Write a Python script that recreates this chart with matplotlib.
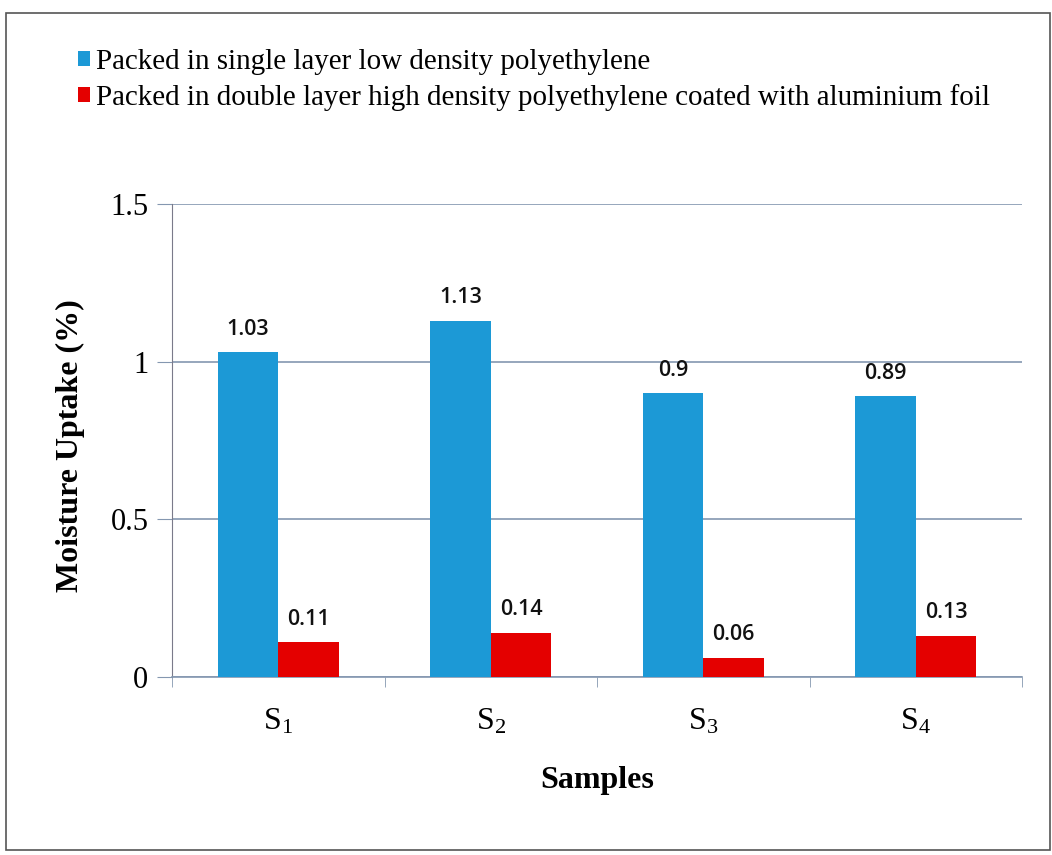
import matplotlib
matplotlib.use("Agg")
import matplotlib.pyplot as plt
from matplotlib.patches import Rectangle
import numpy as np

categories = ["S$_1$", "S$_2$", "S$_3$", "S$_4$"]
single_ldpe = [1.03, 1.13, 0.90, 0.89]
double_hdpe = [0.11, 0.14, 0.06, 0.13]
single_labels = ["1.03", "1.13", "0.9", "0.89"]
double_labels = ["0.11", "0.14", "0.06", "0.13"]
series_names = ["Packed in single layer low density polyethylene",
                "Packed in double layer high density polyethylene coated with aluminium foil"]
yticks = [0, 0.5, 1, 1.5]
ytick_labels = ["0", "0.5", "1", "1.5"]

plt.rcParams['mathtext.fontset'] = 'custom'
plt.rcParams['mathtext.rm'] = 'Liberation Serif'
plt.rcParams['mathtext.it'] = 'Liberation Serif:italic'
plt.rcParams['mathtext.bf'] = 'Liberation Serif:bold'
plt.rcParams['mathtext.default'] = 'rm'

blue = "#1c99d6"
red = "#e40000"
grid_c = "#8497b0"

fig = plt.figure(figsize=(10.52, 8.55), dpi=100)
fig.patches.append(Rectangle((0.006, 0.006), 0.992, 0.979, transform=fig.transFigure,
                             fill=False, edgecolor="#555555", linewidth=1.2))
ax = fig.add_axes([0.1635, 0.2085, 0.808, 0.5525])

x = np.arange(len(categories))
w = 0.285
b1 = ax.bar(x - w/2, single_ldpe, width=w, color=blue, label=series_names[0], zorder=3)
b2 = ax.bar(x + w/2, double_hdpe, width=w, color=red, label=series_names[1], zorder=3)

lab_kw = dict(textcoords="offset points", ha="center", va="bottom",
              fontsize=15.5, family="Open Sans", fontweight="semibold", color="#111111")
for rect, lab in zip(b1, single_labels):
    ax.annotate(lab, (rect.get_x() + rect.get_width()/2, rect.get_height()),
                xytext=(0, 9), **lab_kw)
for rect, lab in zip(b2, double_labels):
    ax.annotate(lab, (rect.get_x() + rect.get_width()/2, rect.get_height()),
                xytext=(0, 9), **lab_kw)

ax.set_xlim(-0.5, 3.5)
ax.set_ylim(0, 1.5)
ax.set_yticks(yticks)
ax.set_yticklabels(ytick_labels, family="Liberation Serif", fontsize=22)
ax.set_xticks(x)
ax.set_xticklabels(categories, family="Liberation Serif", fontsize=23)
ax.set_xticks(np.arange(-0.5, 4, 1), minor=True)
ax.tick_params(axis="x", which="major", length=0, pad=22)
ax.tick_params(axis="x", which="minor", length=7, color=grid_c, direction="out")
ax.tick_params(axis="y", length=11, color=grid_c, direction="out", pad=6)
ax.yaxis.grid(True, color=grid_c, linewidth=1.2, zorder=0)
ax.set_axisbelow(True)
for s in ["top", "right"]:
    ax.spines[s].set_visible(False)
ax.spines["left"].set_color("#7a7a8a")
ax.spines["bottom"].set_color(grid_c)
ax.spines["bottom"].set_linewidth(1.2)

ax.set_ylabel("Moisture Uptake (%)", family="Liberation Serif", fontweight="bold", fontsize=23)
ax.yaxis.set_label_coords(-0.102, 0.49)
ax.set_xlabel("Samples", family="Liberation Serif", fontweight="bold", fontsize=23)
ax.xaxis.set_label_coords(0.5, -0.189)

leg = fig.legend(handles=[b1, b2], loc="upper left", bbox_to_anchor=(0.055, 0.967),
                 frameon=False, prop={"family": "Liberation Serif", "size": 20.9},
                 handlelength=0.42, handleheight=0.42, handletextpad=0.2, labelspacing=0.33,
                 borderpad=0.2)

fig.savefig("out.png", dpi=100)
